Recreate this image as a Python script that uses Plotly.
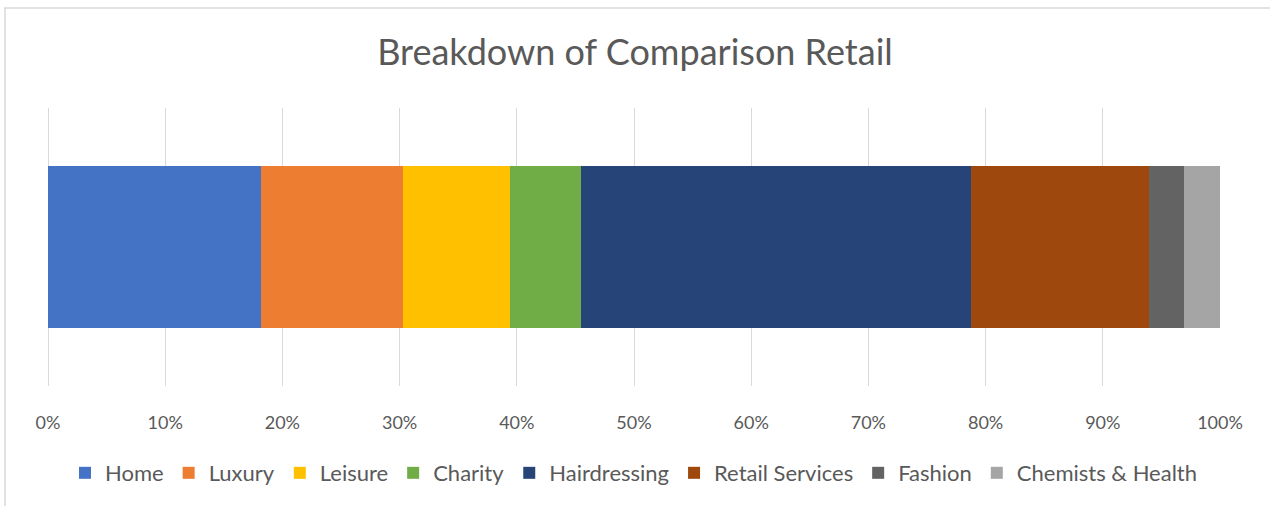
import plotly.graph_objects as go

# Count of comparison retail units by category (shown as share of total)
categories = ["Home", "Luxury", "Leisure", "Charity", "Hairdressing",
              "Retail Services", "Fashion", "Chemists & Health"]
unit_counts = [6, 4, 3, 2, 11, 5, 1, 1]
colors = ["#4472C4", "#ED7D31", "#FFC000", "#70AD47", "#264478",
          "#9E480E", "#636363", "#A5A5A5"]
tick_values = [0, 10, 20, 30, 40, 50, 60, 70, 80, 90, 100]
tick_labels = [f"{v}%" for v in tick_values]

FONT = "Lato"
TEXT_COLOR = "#595959"

fig = go.Figure()
for name, count, color in zip(categories, unit_counts, colors):
    fig.add_trace(go.Bar(
        x=[count], y=["Comparison Retail"], name=name, orientation="h",
        marker=dict(color=color, line=dict(width=0)),
        hoverinfo="skip",
    ))

fig.update_layout(
    width=1270, height=506,
    margin=dict(l=48, r=50, t=108, b=120),
    barmode="stack", barnorm="percent", bargap=0.42,
    paper_bgcolor="white", plot_bgcolor="white",
    font=dict(family=FONT, color=TEXT_COLOR),
    title=dict(text="Breakdown of Comparison Retail",
               x=0.5, xanchor="center", y=1 - 52 / 506, yanchor="middle",
               font=dict(family=FONT, size=36, color=TEXT_COLOR)),
    showlegend=True,
    legend=dict(orientation="h", x=0.5, xanchor="center",
                y=-0.313, yanchor="middle",
                font=dict(family=FONT, size=22, color=TEXT_COLOR),
                itemwidth=30, traceorder="normal"),
    xaxis=dict(range=[0, 100], tickvals=tick_values, ticktext=tick_labels,
               showgrid=True, gridcolor="#D9D9D9", gridwidth=1,
               zeroline=True, zerolinecolor="#D9D9D9", zerolinewidth=1,
               showline=False, ticks="", ticklabelstandoff=24,
               tickfont=dict(family=FONT, size=18, color=TEXT_COLOR),
               fixedrange=True),
    yaxis=dict(showticklabels=False, showgrid=False, zeroline=False,
               showline=False, ticks="", fixedrange=True),
    shapes=[dict(type="rect", xref="paper", yref="paper",
                 x0=(5 - 48) / 1172, x1=1.1, y0=-0.6, y1=1 + (108 - 8) / 278,
                 line=dict(color="#D9D9D9", width=1.5), layer="below")],
)

fig.write_html("out.html")
